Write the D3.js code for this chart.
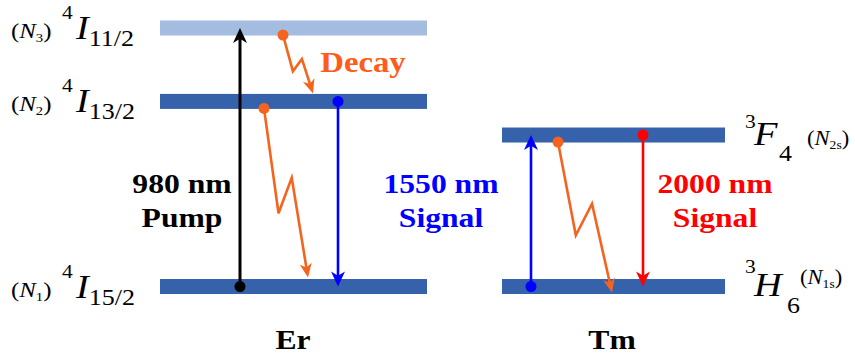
<!DOCTYPE html>
<html>
<head>
<meta charset="utf-8">
<script src="https://cdn.jsdelivr.net/npm/d3@7"></script>
<style>
  body { margin: 0; background: #fff; }
  svg { display: block; }
  svg text { font-family: "Liberation Serif", "Times New Roman", serif; }
</style>
</head>
<body>
<div id="diagram"></div>
<script>
// ions: where each column of levels sits (diagram x units)
var ions = ["Er", "Tm"];
var ionBarStart = [160, 502];
var ionBarEnd = [427, 725];
var ionLabelX = [293, 612];

// energy levels, relative height (ground = 0, Er 4I11/2 = 1)
var levelIon = ["Er", "Er", "Er", "Tm", "Tm"];
var levelHeight = [0, 0.716, 1, 0, 0.586];
var levelShade = ["dark", "dark", "light", "dark", "dark"];
var levelSup = ["4", "4", "4", "3", "3"];
var levelTerm = ["I", "I", "I", "H", "F"];
var levelSub = ["15/2", "13/2", "11/2", "6", "4"];
var levelPop = ["1", "2", "3", "1s", "2s"];

// radiative transitions (straight arrows): from level -> to level at x
var radFrom = [0, 1, 3, 4];
var radTo = [2, 0, 4, 3];
var radX = [240, 338, 531, 643];
var radColor = ["#000000", "#0000ff", "#0000ff", "#ff0000"];

// non-radiative decays (zigzag arrows)
var decayFrom = [2, 1, 4];
var decayTo = [1, 0, 3];
var decayX0 = [283, 264, 558];
var decayX1 = [313, 308, 612];
var decayTip = [-8, -9, 6];

// transition captions
var capLine1 = ["980 nm", "1550 nm", "2000 nm"];
var capLine2 = ["Pump", "Signal", "Signal"];
var capX = [182, 441, 715];
var capColor = ["#000000", "#0000ff", "#ff0000"];

var width = 855, height = 356;
var stretch = 1.13;

var xScale = d3.scaleLinear().domain([0, width]).range([0, width]);
var yScale = d3.scaleLinear().domain([0, 1]).range([286.5, 28]);

var svg = d3.select("#diagram").append("svg")
    .attr("width", width)
    .attr("height", height);

var ionIdx = function(name) { return ions.indexOf(name); };

// level bars
svg.append("g").selectAll("rect")
    .data(levelHeight)
    .enter()
    .append("rect")
    .attr("x", (d, i) => xScale(ionBarStart[ionIdx(levelIon[i])]))
    .attr("width", (d, i) => xScale(ionBarEnd[ionIdx(levelIon[i])]) - xScale(ionBarStart[ionIdx(levelIon[i])]))
    .attr("y", d => yScale(d) - 7.5)
    .attr("height", 15)
    .attr("fill", (d, i) => levelShade[i] == "light" ? "#a4bcdf" : "#3661ab");

function txt(x, y, parts, anchor) {
    var t = svg.append("text")
        .attr("transform", "translate(" + x + "," + y + ") scale(" + stretch + ",1)")
        .attr("text-anchor", anchor || "start");
    parts.forEach(function(p) {
        var s = t.append("tspan").text(p.t).style("font-size", p.size + "px");
        if (p.italic) s.style("font-style", "italic");
        if (p.bold) s.style("font-weight", "bold");
        if (p.fill) s.attr("fill", p.fill);
        if (p.dx) s.attr("dx", p.dx);
        if (p.dy) s.attr("dy", p.dy);
    });
    return t;
}

function popLabel(x, y, pop, size) {
    txt(x, y, [
        {t: "(", size: size},
        {t: "N", size: size, italic: true},
        {t: pop, size: Math.round(size * 0.6), dy: 4},
        {t: ")", size: size, dy: -4}
    ]);
}

// level labels
levelHeight.forEach(function(h, i) {
    var y = yScale(h);
    if (levelIon[i] == "Er") {
        popLabel(11, y + 10, levelPop[i], 22);
        txt(62, y - 9, [{t: levelSup[i], size: 19}]);
        txt(76, y + 11, [
            {t: levelTerm[i], size: 34, italic: true},
            {t: levelSub[i], size: 23, dy: 7}
        ]);
    } else if (levelPop[i] == "2s") {
        txt(745, y - 7, [{t: levelSup[i], size: 19}]);
        txt(754, y + 10, [{t: levelTerm[i], size: 34, italic: true}]);
        txt(779, y + 26, [{t: levelSub[i], size: 23}]);
        popLabel(807, y + 10, levelPop[i], 20);
    } else {
        txt(745, y - 14, [{t: levelSup[i], size: 19}]);
        txt(754, y + 9, [{t: levelTerm[i], size: 34, italic: true}]);
        txt(787, y + 26, [{t: levelSub[i], size: 23}]);
        popLabel(800, y - 3, levelPop[i], 20);
    }
});

function arrow(g, pts, color, w, headLen, headW) {
    var n = pts.length, a = pts[n - 2], b = pts[n - 1];
    var ang = Math.atan2(b[1] - a[1], b[0] - a[0]);
    var cut = headLen * 0.6;
    var line = pts.slice(0, n - 1).concat([[b[0] - cut * Math.cos(ang), b[1] - cut * Math.sin(ang)]]);
    g.append("path")
        .attr("d", d3.line()(line))
        .attr("fill", "none")
        .attr("stroke", color)
        .attr("stroke-width", w)
        .attr("stroke-linejoin", "miter");
    g.append("path")
        .attr("d", "M0,0L" + (-headLen) + "," + (-headW / 2) + "L" + (-headLen * 0.72) + ",0L" + (-headLen) + "," + (headW / 2) + "Z")
        .attr("transform", "translate(" + b[0] + "," + b[1] + ") rotate(" + (ang * 180 / Math.PI) + ")")
        .attr("fill", color);
    g.append("circle")
        .attr("cx", pts[0][0])
        .attr("cy", pts[0][1])
        .attr("r", 5.5)
        .attr("fill", color);
}

var arrows = svg.append("g");

radX.forEach(function(x, i) {
    var y0 = yScale(levelHeight[radFrom[i]]);
    var y1 = yScale(levelHeight[radTo[i]]);
    arrow(arrows, [[xScale(x), y0], [xScale(x), y1]], radColor[i], i == 0 ? 3 : 2.6, 15, 14);
});

// zigzag shape: two kinks as fractions of the drop
var kinks = [[0.33, 0.62], [0.63, 0.41]];
decayX0.forEach(function(x0, i) {
    var y0 = yScale(levelHeight[decayFrom[i]]) + 7;
    var y1 = yScale(levelHeight[decayTo[i]]) + decayTip[i];
    var x1 = decayX1[i];
    var pts = [[xScale(x0), y0]];
    kinks.forEach(function(k) {
        pts.push([xScale(x0 + (x1 - x0) * k[0]), y0 + (y1 - y0) * k[1]]);
    });
    pts.push([xScale(x1), y1]);
    arrow(arrows, pts, "#f5641f", 2.6, 14, 12);
});

// captions
capX.forEach(function(x, i) {
    txt(x, 193, [{t: capLine1[i], size: 28, bold: true, fill: capColor[i]}], "middle");
    txt(x, 227, [{t: capLine2[i], size: 28, bold: true, fill: capColor[i]}], "middle");
});

txt(363, 72, [{t: "Decay", size: 29, bold: true, fill: "#ff5b1a"}], "middle");

ions.forEach(function(name, i) {
    txt(ionLabelX[i], 349, [{t: name, size: 28, bold: true}], "middle");
});
</script>
</body>
</html>
